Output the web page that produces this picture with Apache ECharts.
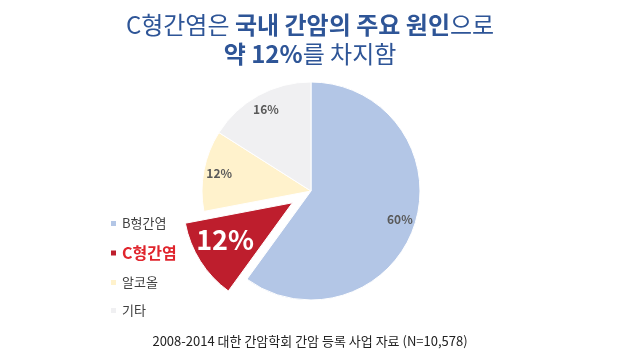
<!DOCTYPE html>
<html>
<head>
<meta charset="utf-8">
<script src="https://cdn.jsdelivr.net/npm/echarts@6/dist/echarts.min.js"></script>
<style>
  html, body { margin: 0; padding: 0; background: #fff; }
  #chart { width: 620px; height: 354px; }
</style>
</head>
<body>
<div id="chart"></div>
<script>
const FONT = '"Noto Sans CJK KR", "Noto Sans", sans-serif';
const BLUE = "#2E5597";

const categories = ["B형간염", "C형간염", "알코올", "기타"];
const shares = [60, 12, 12, 16];
const colors = ["#B3C6E6", "#BE1E2D", "#FFF2CC", "#F0F0F2"];
const HIGHLIGHT = "C형간염";

const R = 109;
const CENTER = [311, 191];

const chart = echarts.init(document.getElementById("chart"), null, { renderer: "canvas" });

chart.setOption({
  backgroundColor: "#fff",
  animation: false,
  title: [
    {
      left: "center",
      top: 5,
      text: "{n|C형간염은 }{b|국내 간암의 주요 원인}{n|으로}\n{b|약 12%}{n|를 차지함}",
      textStyle: {
        rich: {
          n: { fontFamily: FONT, fontSize: 24, color: BLUE, fontWeight: "normal", lineHeight: 29 },
          b: { fontFamily: FONT, fontSize: 24, color: BLUE, fontWeight: "bold", lineHeight: 29 },
        },
      },
    },
    {
      left: "center",
      top: 330,
      text: "2008-2014 대한 간암학회 간암 등록 사업 자료 (N=10,578)",
      textStyle: { fontFamily: FONT, fontSize: 13, color: "#222", fontWeight: "normal" },
    },
  ],
  legend: {
    orient: "vertical",
    left: 104,
    top: 212,
    itemWidth: 7,
    itemHeight: 7,
    itemGap: 15,
    icon: "rect",
    selectedMode: false,
    textStyle: { fontFamily: FONT, fontSize: 13, color: "#404040" },
    data: categories.map((c) =>
      c === HIGHLIGHT
        ? { name: c, textStyle: { color: "#E0252D", fontSize: 16, fontWeight: "bold" } }
        : { name: c }
    ),
  },
  series: [
    {
      type: "pie",
      center: CENTER,
      radius: [0, R],
      startAngle: 90,
      clockwise: true,
      selectedMode: "single",
      selectedOffset: 22,
      label: { show: false },
      labelLine: { show: false },
      emphasis: { disabled: true },
      itemStyle: { borderColor: "#fff", borderWidth: 1 },
      data: categories.map((c, i) => ({
        name: c,
        value: shares[i],
        selected: c === HIGHLIGHT,
        itemStyle: { color: colors[i] },
      })),
    },
    {
      type: "pie",
      center: CENTER,
      radius: [R * 0.66, R],
      startAngle: 90,
      clockwise: true,
      silent: true,
      selectedMode: false,
      labelLine: { show: false },
      emphasis: { disabled: true },
      itemStyle: { color: "rgba(0,0,0,0)" },
      label: {
        show: true,
        position: "inside",
        formatter: "{d}%",
        fontFamily: FONT,
        fontSize: 12,
        fontWeight: "bold",
        color: "#595959",
      },
      data: categories.map((c, i) => ({
        name: c,
        value: shares[i],
        label:
          c === HIGHLIGHT
            ? { fontSize: 27, color: "#fff", fontWeight: "bold", offset: [-7, -1] }
            : {},
      })),
    },
  ],
});
</script>
</body>
</html>
